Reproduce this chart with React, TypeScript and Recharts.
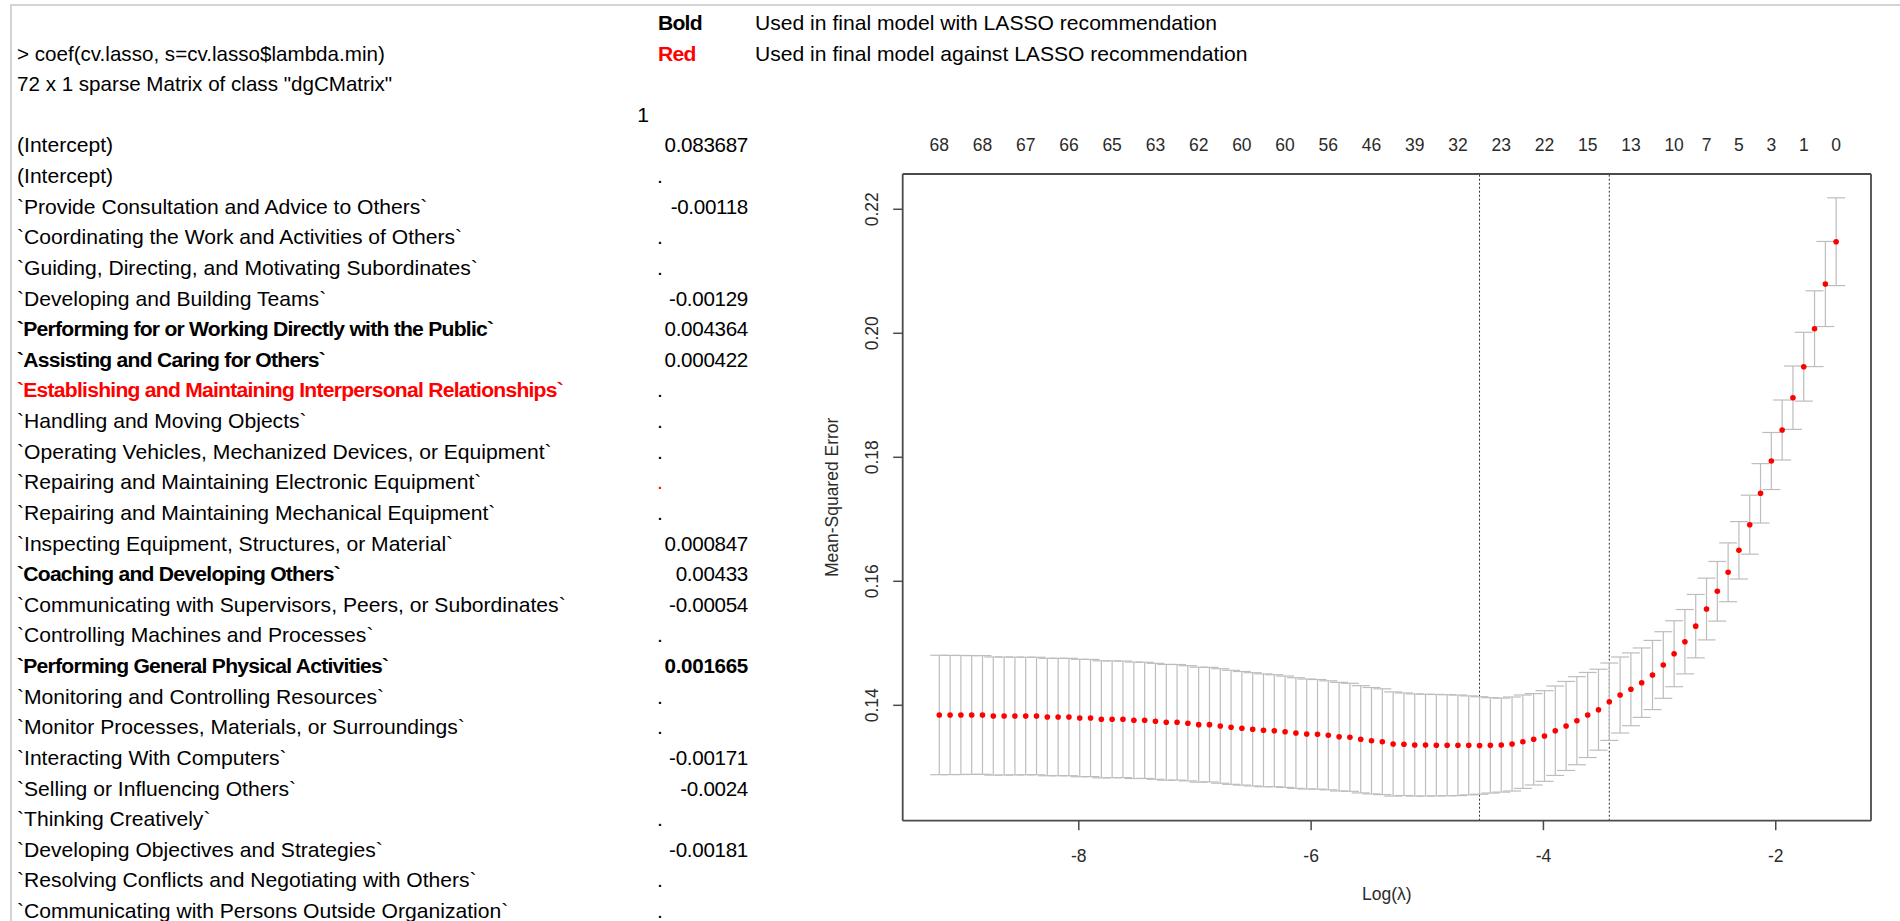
import React from "react";
import { ComposedChart, Scatter, ErrorBar, XAxis, YAxis, ReferenceLine, Label } from "recharts";

// cv.glmnet path: log(lambda) grid, mean CV error and its standard error
const logLambda = [
  -9.201, -9.108, -9.015, -8.922, -8.829, -8.736, -8.643, -8.55, -8.457, -8.364,
  -8.271, -8.178, -8.085, -7.992, -7.899, -7.806, -7.713, -7.62, -7.526, -7.433,
  -7.34, -7.247, -7.154, -7.061, -6.968, -6.875, -6.782, -6.689, -6.596, -6.503,
  -6.41, -6.317, -6.224, -6.131, -6.038, -5.945, -5.852, -5.759, -5.666, -5.573,
  -5.48, -5.387, -5.294, -5.201, -5.108, -5.015, -4.922, -4.829, -4.736, -4.643,
  -4.55, -4.457, -4.363, -4.27, -4.177, -4.084, -3.991, -3.898, -3.805, -3.712,
  -3.619, -3.526, -3.433, -3.34, -3.247, -3.154, -3.061, -2.968, -2.875, -2.782,
  -2.689, -2.596, -2.503, -2.41, -2.317, -2.224, -2.131, -2.038, -1.945, -1.852,
  -1.759, -1.666, -1.573, -1.48,
];

const cvm = [
  0.13844, 0.13844, 0.13844, 0.13844, 0.13844, 0.13827, 0.13827, 0.13827, 0.13827, 0.13827,
  0.13811, 0.13811, 0.13811, 0.13795, 0.13795, 0.13774, 0.13774, 0.13774, 0.13758, 0.13758,
  0.13742, 0.13726, 0.13726, 0.1371, 0.13688, 0.13688, 0.13667, 0.13645, 0.13629, 0.13613,
  0.13597, 0.1359, 0.13574, 0.13553, 0.13537, 0.13532, 0.13516, 0.13494, 0.13484, 0.13452,
  0.13429, 0.13413, 0.13376, 0.13372, 0.1336, 0.13358, 0.13357, 0.13356, 0.13355, 0.13354,
  0.13352, 0.13354, 0.13358, 0.13376, 0.13413, 0.13452, 0.13505, 0.1359, 0.13667, 0.13752,
  0.13844, 0.13929, 0.14058, 0.14166, 0.14258, 0.14365, 0.14489, 0.1465, 0.14832, 0.15026,
  0.15277, 0.15553, 0.15839, 0.16145, 0.165, 0.16913, 0.17419, 0.1794, 0.1844, 0.18961,
  0.19461, 0.20074, 0.20795, 0.21477,
];

const cvsd = [
  0.00963, 0.00961, 0.0096, 0.00958, 0.00957, 0.00953, 0.00952, 0.0095, 0.00948, 0.00948,
  0.00947, 0.00947, 0.00947, 0.00947, 0.00945, 0.00944, 0.00942, 0.0094, 0.00939, 0.00937,
  0.00935, 0.00934, 0.00932, 0.00929, 0.00927, 0.00924, 0.00923, 0.00919, 0.00916, 0.00913,
  0.0091, 0.00903, 0.00898, 0.00892, 0.00887, 0.00884, 0.00879, 0.00876, 0.00871, 0.00865,
  0.00858, 0.00853, 0.0084, 0.00827, 0.00824, 0.00821, 0.00818, 0.00815, 0.00811, 0.00798,
  0.00786, 0.00769, 0.00758, 0.00758, 0.00753, 0.00737, 0.00731, 0.00721, 0.00718, 0.0071,
  0.00686, 0.00653, 0.00624, 0.00613, 0.00587, 0.0056, 0.00558, 0.00537, 0.00532, 0.00519,
  0.00511, 0.00498, 0.00481, 0.00474, 0.00463, 0.00476, 0.00479, 0.0046, 0.00484, 0.00511,
  0.00555, 0.00611, 0.00686, 0.00708,
];

// number of non-zero coefficients shown along the top
const nzTickIndex = [0, 4, 8, 12, 16, 20, 24, 28, 32, 36, 40, 44, 48, 52, 56, 60, 64, 68, 71, 74, 77, 80, 83];
const nzTickLabels = ["68", "68", "67", "66", "65", "63", "62", "60", "60", "56", "46", "39", "32", "23", "22", "15", "13", "10", "7", "5", "3", "1", "0"];

const xTicks = [-8, -6, -4, -2];
const yTicks = [0.14, 0.16, 0.18, 0.2, 0.22];
const lambdaMinLog = -4.55;
const lambda1seLog = -3.433;

// coefficient listing on the left
const termNames = [
  "(Intercept)",
  "(Intercept)",
  "`Provide Consultation and Advice to Others`",
  "`Coordinating the Work and Activities of Others`",
  "`Guiding, Directing, and Motivating Subordinates`",
  "`Developing and Building Teams`",
  "`Performing for or Working Directly with the Public`",
  "`Assisting and Caring for Others`",
  "`Establishing and Maintaining Interpersonal Relationships`",
  "`Handling and Moving Objects`",
  "`Operating Vehicles, Mechanized Devices, or Equipment`",
  "`Repairing and Maintaining Electronic Equipment`",
  "`Repairing and Maintaining Mechanical Equipment`",
  "`Inspecting Equipment, Structures, or Material`",
  "`Coaching and Developing Others`",
  "`Communicating with Supervisors, Peers, or Subordinates`",
  "`Controlling Machines and Processes`",
  "`Performing General Physical Activities`",
  "`Monitoring and Controlling Resources`",
  "`Monitor Processes, Materials, or Surroundings`",
  "`Interacting With Computers`",
  "`Selling or Influencing Others`",
  "`Thinking Creatively`",
  "`Developing Objectives and Strategies`",
  "`Resolving Conflicts and Negotiating with Others`",
  "`Communicating with Persons Outside Organization`",
];
const termCoefs = [
  "0.083687", ".", "-0.00118", ".", ".", "-0.00129", "0.004364", "0.000422", ".", ".",
  ".", ".", ".", "0.000847", "0.00433", "-0.00054", ".", "0.001665", ".", ".",
  "-0.00171", "-0.0024", ".", "-0.00181", ".", ".",
];
// n = normal, b = bold, r = red bold, d = red
const nameStyle = ["n", "n", "n", "n", "n", "n", "b", "b", "r", "n", "n", "n", "n", "n", "b", "n", "n", "b", "n", "n", "n", "n", "n", "n", "n", "n"];
const coefStyle = ["n", "n", "n", "n", "n", "n", "n", "n", "n", "n", "n", "d", "n", "n", "n", "n", "n", "b", "n", "n", "n", "n", "n", "n", "n", "n"];

const points = logLambda.map((x, i) => ({ x, mse: cvm[i], se: cvsd[i] }));
const topTicks = nzTickIndex.map((i) => logLambda[i]);

const ROW_H = 30.62;
const ROW0 = 8;
const FONT = "'Liberation Sans', Arial, sans-serif";
const RFONT = "'Liberation Sans', Arial, Helvetica, sans-serif";
const AXIS = "#4a4a4a";
const TXT = "#2b2b2b";

const cellStyle = (row: number, style: string): React.CSSProperties => {
  const bold = style === "b" || style === "r";
  return {
    position: "absolute",
    top: ROW0 + row * ROW_H,
    height: ROW_H,
    lineHeight: `${ROW_H}px`,
    whiteSpace: "nowrap",
    fontWeight: bold ? 700 : 400,
    letterSpacing: bold ? -0.75 : 0,
    color: style === "r" || style === "d" ? "#ff0000" : "#000",
  };
};

const Sheet = () => (
  <div style={{ position: "absolute", left: 0, top: 0, width: 1900, height: 921, fontFamily: FONT, fontSize: 21.1 }}>
    <div style={{ position: "absolute", left: 10, top: 4, width: 1890, height: 2, background: "#d4d4d4" }} />
    <div style={{ position: "absolute", left: 10, top: 4, width: 2, height: 917, background: "#d4d4d4" }} />

    <div style={{ ...cellStyle(0, "b"), left: 658 }}>Bold</div>
    <div style={{ ...cellStyle(0, "n"), left: 755 }}>Used in final model with LASSO recommendation</div>
    <div style={{ ...cellStyle(1, "n"), left: 17, fontSize: 20.6 }}>&gt; coef(cv.lasso, s=cv.lasso$lambda.min)</div>
    <div style={{ ...cellStyle(1, "r"), left: 658 }}>Red</div>
    <div style={{ ...cellStyle(1, "n"), left: 755 }}>Used in final model against LASSO recommendation</div>
    <div style={{ ...cellStyle(2, "n"), left: 17, fontSize: 20.6 }}>72 x 1 sparse Matrix of class "dgCMatrix"</div>
    <div style={{ ...cellStyle(3, "n"), right: 1900 - 649 }}>1</div>

    {termNames.map((name, i) => (
      <React.Fragment key={i}>
        <div style={{ ...cellStyle(i + 4, nameStyle[i]), left: 17 }}>{name}</div>
        {termCoefs[i] === "." ? (
          <div style={{ ...cellStyle(i + 4, coefStyle[i]), left: 657 }}>.</div>
        ) : (
          <div style={{ ...cellStyle(i + 4, coefStyle[i]), right: 1900 - 748, fontSize: 20.6, letterSpacing: -0.3 }}>
            {termCoefs[i]}
          </div>
        )}
      </React.Fragment>
    ))}
  </div>
);

const LeftTick = ({ x, y, payload }: any) => (
  <text
    x={x - 19}
    y={y}
    transform={`rotate(-90, ${x - 19}, ${y})`}
    textAnchor="middle"
    dominantBaseline="central"
    fontSize={17.5}
    fontFamily={RFONT}
    fill={TXT}
  >
    {payload.value.toFixed(2)}
  </text>
);

const BottomTick = ({ x, y, payload }: any) => (
  <text x={x} y={y + 24} textAnchor="middle" dominantBaseline="central" fontSize={17.5} fontFamily={RFONT} fill={TXT}>
    {payload.value}
  </text>
);

const TopTick = ({ x, y, index }: any) => (
  <text x={x} y={y - 21} textAnchor="middle" dominantBaseline="central" fontSize={17.5} fontFamily={RFONT} fill={TXT}>
    {nzTickLabels[index]}
  </text>
);

const Dot = ({ cx, cy }: any) => <circle cx={cx} cy={cy} r={2.8} fill="#ff0000" />;

const CvPlot = () => (
  <div style={{ position: "absolute", left: 790, top: 0 }}>
    <ComposedChart width={1110} height={921} margin={{ top: 114, right: 28, bottom: 10.3, left: 32.7 }}>
      <XAxis
        xAxisId="top"
        orientation="top"
        type="number"
        dataKey="x"
        domain={[-9.516, -1.18]}
        allowDataOverflow
        ticks={topTicks}
        interval={0}
        height={60}
        tickLine={false}
        tickSize={6}
        tickMargin={2}
        axisLine={{ stroke: AXIS, strokeWidth: 1.8 }}
        tick={<TopTick />}
      />
      <XAxis
        xAxisId="bottom"
        type="number"
        dataKey="x"
        domain={[-9.516, -1.18]}
        allowDataOverflow
        ticks={xTicks}
        interval={0}
        height={90}
        tickSize={9.5}
        tickMargin={2}
        axisLine={{ stroke: AXIS, strokeWidth: 1.8 }}
        tickLine={{ stroke: AXIS, strokeWidth: 1.5 }}
        tick={<BottomTick />}
      >
        <Label
          content={({ viewBox }: any) => (
            <text
              x={viewBox.x + viewBox.width / 2}
              y={viewBox.y + 73}
              textAnchor="middle"
              dominantBaseline="central"
              fontSize={17.5}
              fontFamily={RFONT}
              fill={TXT}
            >
              Log(λ)
            </text>
          )}
        />
      </XAxis>
      <YAxis
        yAxisId="mse"
        type="number"
        domain={[0.12139, 0.22569]}
        allowDataOverflow
        ticks={yTicks}
        interval={0}
        width={80}
        tickSize={9.5}
        tickMargin={2}
        axisLine={{ stroke: AXIS, strokeWidth: 1.8 }}
        tickLine={{ stroke: AXIS, strokeWidth: 1.5 }}
        tick={<LeftTick />}
      >
        <Label
          content={({ viewBox }: any) => {
            const cx = viewBox.x + viewBox.width - 71;
            const cy = viewBox.y + viewBox.height / 2;
            return (
              <text
                x={cx}
                y={cy}
                transform={`rotate(-90, ${cx}, ${cy})`}
                textAnchor="middle"
                dominantBaseline="central"
                fontSize={17.5}
                fontFamily={RFONT}
                fill={TXT}
              >
                Mean-Squared Error
              </text>
            );
          }}
        />
      </YAxis>
      <YAxis
        yAxisId="frame"
        orientation="right"
        type="number"
        domain={[0.12139, 0.22569]}
        allowDataOverflow
        width={1}
        tick={false}
        tickLine={false}
        axisLine={{ stroke: AXIS, strokeWidth: 1.8 }}
      />
      <ReferenceLine xAxisId="bottom" yAxisId="mse" x={lambdaMinLog} stroke="#333" strokeWidth={1} strokeDasharray="2 2" />
      <ReferenceLine xAxisId="bottom" yAxisId="mse" x={lambda1seLog} stroke="#333" strokeWidth={1} strokeDasharray="2 2" />
      <Scatter
        xAxisId="bottom"
        yAxisId="mse"
        data={points}
        dataKey="mse"
        shape={<Dot />}
        isAnimationActive={false}
      >
        <ErrorBar dataKey="se" direction="y" width={9} stroke="#bdbdbd" strokeWidth={1.2} isAnimationActive={false} />
      </Scatter>
    </ComposedChart>
  </div>
);

export default function App() {
  return (
    <div style={{ position: "absolute", left: 0, top: 0, width: 1900, height: 921, background: "#fff", overflow: "hidden" }}>
      <Sheet />
      <CvPlot />
    </div>
  );
}
